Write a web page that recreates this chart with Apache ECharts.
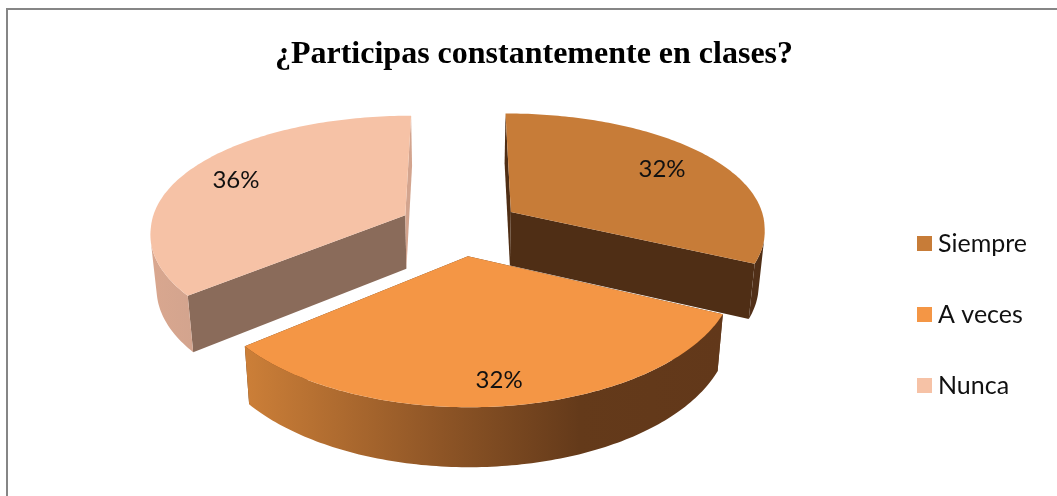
<!DOCTYPE html>
<html><head><meta charset="utf-8">
<style>html,body{margin:0;padding:0;background:#fff}#c{width:1057px;height:496px}</style>
<script src="https://cdn.jsdelivr.net/npm/echarts@6/dist/echarts.min.js"></script>
</head><body><div id="c"></div>
<script>
const titleText = '¿Participas constantemente en clases?';
const categories = ['Siempre', 'A veces', 'Nunca'];
const values = [32, 32, 36];

// scene layout (screen px) and perspective
const CX = 460, CY = 227, RX = 255, RY = 118, PERSP = 0.153, PERSP_X_BACK = 0.12, PERSP_X_FRONT = 0.14, EXPLODE = 0.24, DEPTH = 54, SHRINK = 0.98;
const labelAnchor = [[0.64, 0.40], [0.10, -0.845], [-0.706, 0.32]];
const topColors = ['#C77C38', '#F49645', '#F6C2A6'];
const firstFace = ['#4F2E15', '#5F3718', '#8A6B5A'];
const lastFace = ['#4F2E15', '#5F3718', '#D3A48E'];
const rimStops = [
  [[0, '#53311A'], [1, '#4F2E15']],
  [[0, '#CC7F38'], [0.41, '#8E5526'], [0.7, '#643A1A'], [1, '#62381A']],
  [[0, '#D9A78F'], [1, '#D3A48E']]
];
const total = values.reduce((a, b) => a + b, 0);
const toRad = v => v / total * Math.PI * 2;

function sliceAngles(i) {
  const a0 = toRad(values.slice(0, i).reduce((a, b) => a + b, 0));
  return [a0, a0 + toRad(values[i])];
}
function project(X, Y, z) {
  const s = 1 / (1 + PERSP * Y), sx = 1 / (1 + (Y < 0 ? PERSP_X_FRONT : PERSP_X_BACK) * Y);
  const x = CX + RX * X * sx, y = CY - RY * Y * s;
  if (!z) return [x, y];
  return [CX + (x - CX) * SHRINK, y + DEPTH * Math.sqrt(s)];
}
function area(q) {
  let t = 0;
  q.forEach((p, j) => { const n = q[(j + 1) % q.length]; t += p[0] * n[1] - n[0] * p[1]; });
  return t / 2;
}
function renderSlice(i) {
  const [a0, a1] = sliceAngles(i), mid = (a0 + a1) / 2;
  const ox = EXPLODE * Math.sin(mid), oy = EXPLODE * Math.cos(mid);
  const rim = z => {
    const pts = [];
    for (let k = 0; k <= 120; k++) {
      const a = a0 + (a1 - a0) * k / 120;
      pts.push(project(ox + Math.sin(a), oy + Math.cos(a), z));
    }
    return pts;
  };
  const top = rim(0), bot = rim(1);
  const apex = project(ox, oy, 0), apexB = project(ox, oy, 1);
  const poly = (points, fill) => ({ type: 'polygon', shape: { points }, silent: true, style: { fill } });
  // keep only the camera-facing stretch of the outer wall, which runs from the silhouette tangent
  const facing = [];
  for (let k = 0; k < top.length - 1; k++) {
    if (area([top[k], top[k + 1], bot[k + 1], bot[k]]) < 0) facing.push(k);
  }
  const walls = [];
  if (facing.length) {
    const from = facing[0], to = facing[facing.length - 1] + 1;
    const t = top.slice(from, to + 1), b = bot.slice(from, to + 1);
    const xs = t.concat(b).map(p => p[0]);
    const grad = { type: 'linear', global: true, x: Math.min(...xs), y: 0, x2: Math.max(...xs), y2: 0,
      colorStops: rimStops[i].map(s => ({ offset: s[0], color: s[1] })) };
    walls.push(poly(t.concat(b.reverse()), grad));
  }
  const lab = project(ox + labelAnchor[i][0], oy + labelAnchor[i][1], 0);
  return {
    type: 'group',
    children: [
      poly([apex, top[0], bot[0], apexB], firstFace[i]),
      poly([apex, top[top.length - 1], bot[bot.length - 1], apexB], lastFace[i])
    ].concat(walls, [
      poly([apex].concat(top), topColors[i]),
      { type: 'text', style: { text: values[i] + '%', x: lab[0], y: lab[1], align: 'center', verticalAlign: 'middle',
        fontFamily: 'Lato', fontSize: 24, fill: '#111' } }
    ])
  };
}
const drawOrder = [2, 0, 1];
const series = categories.map((name, i) => ({
  type: 'custom', name, coordinateSystem: 'none', data: [values[i]],
  z: 2 + drawOrder.indexOf(i),
  itemStyle: { color: topColors[i] },
  renderItem: () => renderSlice(i)
}));
const chart = echarts.init(document.getElementById('c'), null, { renderer: 'canvas' });
chart.setOption({
  animation: false,
  backgroundColor: '#fff',
  title: { text: titleText, left: 529, top: 34, textAlign: 'center',
    textStyle: { fontFamily: 'Liberation Serif', fontWeight: 'bold', fontSize: 32, color: '#000' } },
  legend: { orient: 'vertical', left: 912, top: 226, icon: 'rect', itemWidth: 15, itemHeight: 15, itemGap: 46,
    selectedMode: false, data: categories,
    textStyle: { fontFamily: 'Lato', fontSize: 25, color: '#111', padding: [0, 0, 0, 1] } },
  graphic: [{ type: 'polyline', silent: true, shape: { points: [[7, 497], [7, 9], [1058, 9]] },
    style: { stroke: '#868686', lineWidth: 2, fill: null } }],
  series
});
</script></body></html>
